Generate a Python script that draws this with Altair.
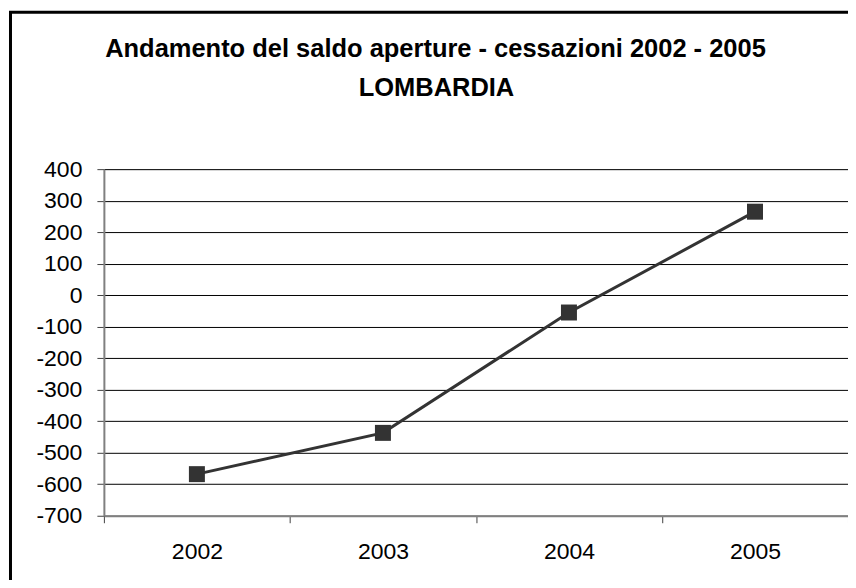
import altair as alt
import pandas as pd

years = ["2002", "2003", "2004", "2005"]
saldo = [-568, -437, -55, 265]
y_ticks = list(range(-700, 401, 100))
title_line1 = "Andamento del saldo aperture - cessazioni 2002 - 2005"
title_line2 = "LOMBARDIA"

df = pd.DataFrame({"anno": years, "saldo": saldo})

minus_expr = "datum.value < 0 ? '-' + abs(datum.value) : '' + datum.value"

x_enc = alt.X("anno:N", sort=years, title=None,
              scale=alt.Scale(paddingInner=0, paddingOuter=0),
              axis=alt.Axis(labelAngle=0, tickBand="extent", labelFont="Liberation Sans",
                            labelFontSize=23, labelColor="black", labelPadding=18,
                            tickSize=7, tickColor="#404040", domainColor="#808080",
                            domainWidth=2, grid=False))
y_enc = alt.Y("saldo:Q", title=None,
              scale=alt.Scale(domain=[-700, 400], nice=False, zero=False),
              axis=alt.Axis(values=y_ticks, labelExpr=minus_expr,
                            labelFont="Liberation Sans", labelFontSize=23,
                            labelColor="black", labelPadding=15, tickSize=7,
                            tickColor="#404040", domainColor="#808080", domainWidth=2,
                            grid=True, gridColor="#000000", gridWidth=1))

frame = alt.Chart(alt.Data(values=[{}])).mark_rect(
    filled=False, stroke="black", strokeWidth=3
).encode(x=alt.value(-93.5), x2=alt.value(770), y=alt.value(-157), y2=alt.value(440))

title_style = dict(font="Liberation Sans", fontSize=25.5, fontWeight="bold", color="black",
                   align="center", baseline="alphabetic")
t1 = alt.Chart(alt.Data(values=[{"txt": title_line1}])).mark_text(**title_style).encode(
    text="txt:N", x=alt.value(332), y=alt.value(-112))
t2 = alt.Chart(alt.Data(values=[{"txt": title_line2}])).mark_text(**title_style).encode(
    text="txt:N", x=alt.value(333), y=alt.value(-73))

line = alt.Chart(df).mark_line(color="#333333", strokeWidth=3).encode(x=x_enc, y=y_enc)
pts = alt.Chart(df).mark_point(shape="square", filled=True, size=256, color="#333333",
                               opacity=1).encode(x=x_enc, y=y_enc)

chart = alt.layer(frame, t1, t2, line, pts).properties(
    width=745, height=347,
    autosize=alt.AutoSizeParams(type="none"),
    padding={"left": 96, "top": 161, "right": 0, "bottom": 64},
).configure_view(stroke="#808080", strokeWidth=2).configure(background="white")

chart.save("out.html", embed_options={"renderer": "svg", "actions": False})
